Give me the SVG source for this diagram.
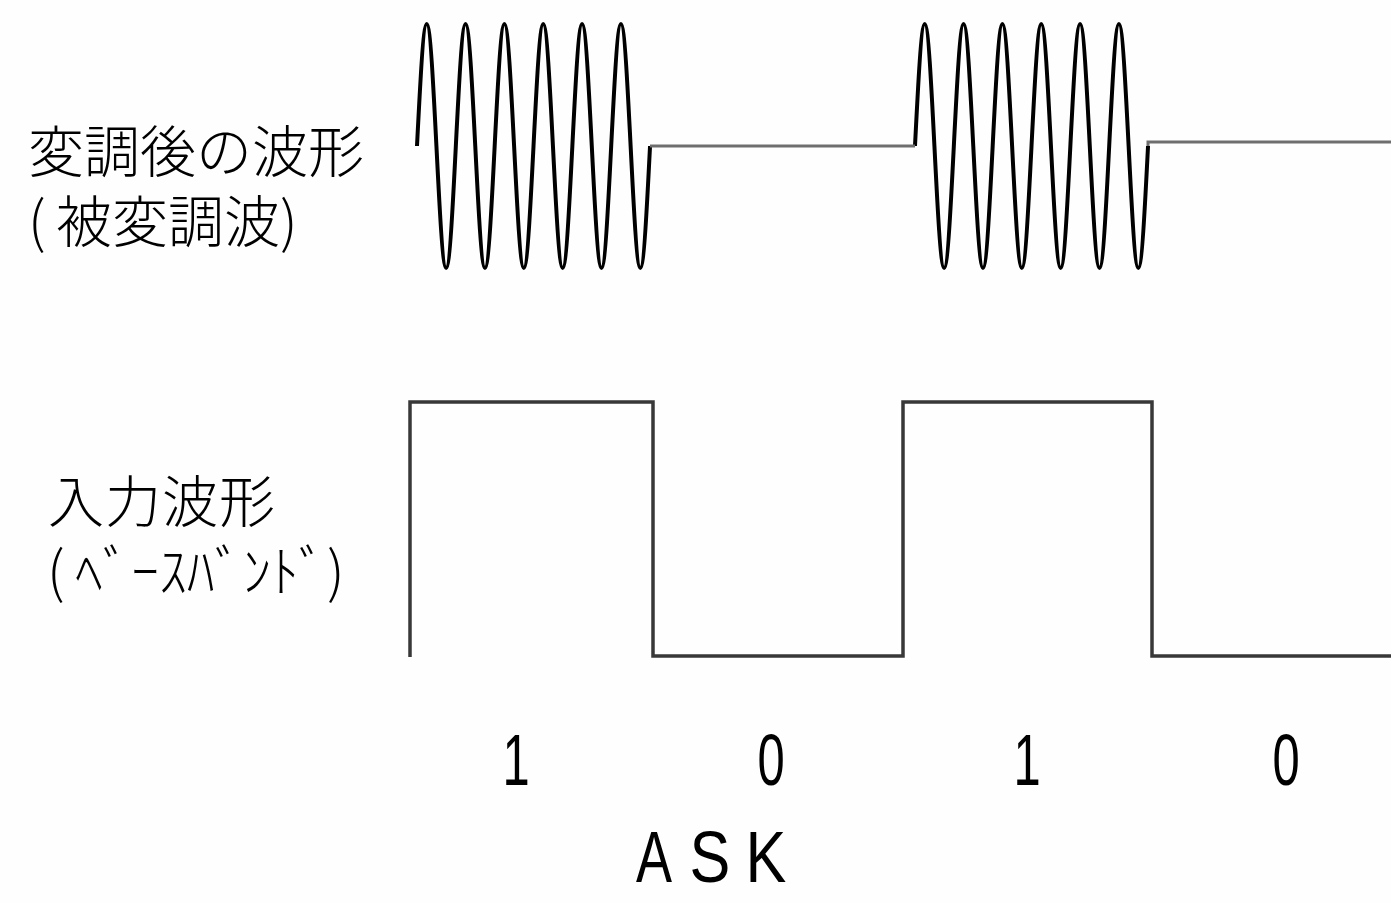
<svg xmlns="http://www.w3.org/2000/svg" width="1391" height="903" viewBox="0 0 1391 903">
<style>
.jp{font-family:"Noto Sans CJK JP","Noto Sans",sans-serif;font-size:56px;font-weight:300;fill:#000}
.num{font-family:"Liberation Sans",Arial,sans-serif;font-size:72px;font-weight:300;fill:#000}
.sine{fill:none;stroke:#000;stroke-width:4;stroke-linejoin:round}
.flat{fill:none;stroke:#6e6e6e;stroke-width:3}
.sq{fill:none;stroke:#383838;stroke-width:3.5;stroke-linejoin:miter}
</style>
<rect width="1391" height="903" fill="#fdfefd"/>
<g id="modulated-wave">
<path class="sine" d="M417,146 c3.17,-62.5 6.21,-122 9.71,-122 c3.5,0 6.54,59.5 9.71,122 c3.17,62.5 6.21,122 9.71,122 c3.5,0 6.54,-59.5 9.71,-122 c3.17,-62.5 6.21,-122 9.71,-122 c3.5,0 6.54,59.5 9.71,122 c3.17,62.5 6.21,122 9.71,122 c3.5,0 6.54,-59.5 9.71,-122 c3.17,-62.5 6.21,-122 9.71,-122 c3.5,0 6.54,59.5 9.71,122 c3.17,62.5 6.21,122 9.71,122 c3.5,0 6.54,-59.5 9.71,-122 c3.17,-62.5 6.21,-122 9.71,-122 c3.5,0 6.54,59.5 9.71,122 c3.17,62.5 6.21,122 9.71,122 c3.5,0 6.54,-59.5 9.71,-122 c3.17,-62.5 6.21,-122 9.71,-122 c3.5,0 6.54,59.5 9.71,122 c3.17,62.5 6.21,122 9.71,122 c3.5,0 6.54,-59.5 9.71,-122 c3.17,-62.5 6.21,-122 9.71,-122 c3.5,0 6.54,59.5 9.71,122 c3.17,62.5 6.21,122 9.71,122 c3.5,0 6.54,-59.5 9.71,-122"/>
<path class="sine" d="M915,146 c3.17,-62.5 6.21,-122 9.71,-122 c3.5,0 6.54,59.5 9.71,122 c3.17,62.5 6.21,122 9.71,122 c3.5,0 6.54,-59.5 9.71,-122 c3.17,-62.5 6.21,-122 9.71,-122 c3.5,0 6.54,59.5 9.71,122 c3.17,62.5 6.21,122 9.71,122 c3.5,0 6.54,-59.5 9.71,-122 c3.17,-62.5 6.21,-122 9.71,-122 c3.5,0 6.54,59.5 9.71,122 c3.17,62.5 6.21,122 9.71,122 c3.5,0 6.54,-59.5 9.71,-122 c3.17,-62.5 6.21,-122 9.71,-122 c3.5,0 6.54,59.5 9.71,122 c3.17,62.5 6.21,122 9.71,122 c3.5,0 6.54,-59.5 9.71,-122 c3.17,-62.5 6.21,-122 9.71,-122 c3.5,0 6.54,59.5 9.71,122 c3.17,62.5 6.21,122 9.71,122 c3.5,0 6.54,-59.5 9.71,-122 c3.17,-62.5 6.21,-122 9.71,-122 c3.5,0 6.54,59.5 9.71,122 c3.17,62.5 6.21,122 9.71,122 c3.5,0 6.54,-59.5 9.71,-122"/>
<path class="flat" d="M650,146 H915"/>
<path class="flat" d="M1148,146 V142 H1391"/>
</g>
<g id="baseband-wave">
<path class="sq" d="M410,657 V402 H653 V656 H903 V402 H1152 V656 H1391"/>
</g>
<g id="label-modulated">
<text class="jp" x="28 84 140 196 252 308" y="172">変調後の波形</text>
<text class="jp" x="28 56 112 168 224 280" y="242">(被変調波)</text>
</g>
<g id="label-input">
<text class="jp" x="48 105 162 219" y="522">入力波形</text>
<text class="jp" x="47 75 103 131 159 187 215 243 271 299 327" y="592">(ﾍﾞｰｽﾊﾞﾝﾄﾞ)</text>
</g>
<g id="bits">
<g transform="translate(516,785) scale(0.68,1)"><text class="num" text-anchor="middle">1</text></g>
<g transform="translate(771,785) scale(0.68,1)"><text class="num" text-anchor="middle">0</text></g>
<g transform="translate(1027,785) scale(0.68,1)"><text class="num" text-anchor="middle">1</text></g>
<g transform="translate(1286,785) scale(0.68,1)"><text class="num" text-anchor="middle">0</text></g>
</g>
<g id="title">
<g transform="translate(654,882) scale(0.75,1)"><text class="num" text-anchor="middle">A</text></g>
<g transform="translate(710,882) scale(0.85,1)"><text class="num" text-anchor="middle">S</text></g>
<g transform="translate(766,882) scale(0.85,1)"><text class="num" text-anchor="middle">K</text></g>
</g>
</svg>
